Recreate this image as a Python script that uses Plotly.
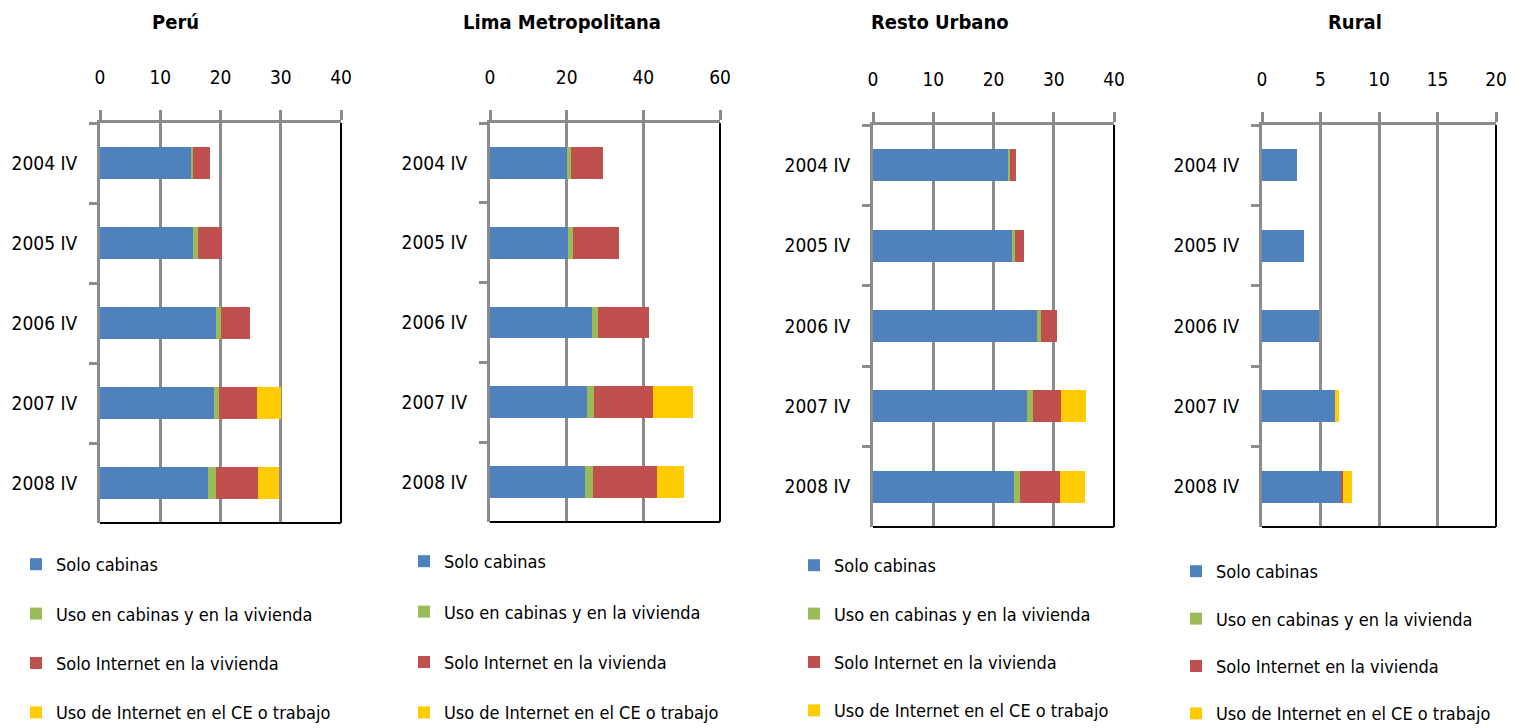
import plotly.graph_objects as go

W, H = 1515, 728

periods = ["2004 IV", "2005 IV", "2006 IV", "2007 IV", "2008 IV"]
series_names = ["Solo cabinas", "Uso en cabinas y en la vivienda",
                "Solo Internet en la vivienda", "Uso de Internet en el CE o trabajo"]
colors = ["#4F81BD", "#9BBB59", "#C0504D", "#FFCC00"]

panel_titles = ["Perú", "Lima Metropolitana", "Resto Urbano", "Rural"]

# Perú
peru_cabinas = [15.2, 15.5, 19.3, 19.0, 18.0]
peru_ambos = [0.3, 0.7, 0.8, 0.8, 1.2]
peru_vivienda = [2.8, 4.0, 4.8, 6.2, 7.1]
peru_ce = [0.0, 0.0, 0.0, 4.0, 3.4]

# Lima Metropolitana
lima_cabinas = [20.1, 20.3, 26.6, 25.3, 24.8]
lima_ambos = [1.0, 1.3, 1.6, 1.8, 2.1]
lima_vivienda = [8.4, 12.0, 13.3, 15.4, 16.7]
lima_ce = [0.0, 0.0, 0.0, 10.5, 7.0]

# Resto Urbano
resto_cabinas = [22.5, 23.0, 27.2, 25.6, 23.4]
resto_ambos = [0.3, 0.6, 0.7, 1.0, 1.0]
resto_vivienda = [0.9, 1.5, 2.6, 4.6, 6.6]
resto_ce = [0.0, 0.0, 0.0, 4.2, 4.2]

# Rural
rural_cabinas = [3.0, 3.6, 4.9, 6.2, 6.8]
rural_ambos = [0.0, 0.0, 0.0, 0.0, 0.0]
rural_vivienda = [0.0, 0.0, 0.0, 0.0, 0.1]
rural_ce = [0.0, 0.0, 0.0, 0.4, 0.8]

x_ranges = [[0, 40], [0, 60], [0, 40], [0, 20]]
x_dtick = [10, 20, 10, 5]

panels = [
    [peru_cabinas, peru_ambos, peru_vivienda, peru_ce],
    [lima_cabinas, lima_ambos, lima_vivienda, lima_ce],
    [resto_cabinas, resto_ambos, resto_vivienda, resto_ce],
    [rural_cabinas, rural_ambos, rural_vivienda, rural_ce],
]

# layout (pixels)
plot_x = [(100, 341), (490, 720), (873, 1114), (1262, 1496)]
plot_y = [(123, 523), (123, 522), (125, 527), (125, 527)]
title_x = [175, 562, 940, 1355]
legend_pos = [(16, 546), (404, 543), (794, 547), (1176, 553)]
legend_gap = [23, 24, 22, 21]

FONT = "DejaVu Sans Condensed, Roboto, sans-serif"
GRAY = "#8C8C8C"

fig = go.Figure()
layout = dict(
    width=W, height=H,
    margin=dict(l=0, r=0, t=0, b=0, autoexpand=False),
    paper_bgcolor="white", plot_bgcolor="white",
    barmode="stack", bargap=0.6,
    font=dict(family=FONT, size=19, color="black"),
    showlegend=True,
    annotations=[], shapes=[],
)

for p in range(4):
    sfx = "" if p == 0 else str(p + 1)
    xa, ya = "x" + sfx, "y" + sfx
    leg = "legend" + sfx
    for s in range(4):
        fig.add_trace(go.Bar(
            y=periods, x=panels[p][s], orientation="h",
            name=series_names[s], marker=dict(color=colors[s], line=dict(width=0)),
            xaxis=xa, yaxis=ya, legend=leg, legendgroup=f"g{p}_{s}",
            hovertemplate="%{y}: %{x}<extra>" + series_names[s] + "</extra>",
        ))
    x0, x1 = plot_x[p]
    y0, y1 = plot_y[p]
    layout["xaxis" + sfx] = dict(
        domain=[x0 / W, x1 / W], anchor=ya, side="top",
        range=x_ranges[p], dtick=x_dtick[p], tick0=0,
        showgrid=True, gridcolor=GRAY, gridwidth=2.5,
        showline=True, linecolor=GRAY, linewidth=3,
        ticks="outside", ticklen=10, tickwidth=2.5, tickcolor=GRAY,
        ticklabelstandoff=18, zeroline=False,
        tickfont=dict(size=19, family=FONT),
    )
    layout["yaxis" + sfx] = dict(
        domain=[(H - y1) / H, (H - y0) / H], anchor=xa,
        autorange="reversed", type="category",
        showline=True, linecolor=GRAY, linewidth=3,
        ticks="outside", tickson="boundaries", ticklen=8, tickwidth=3, tickcolor=GRAY,
        ticklabelstandoff=16, showgrid=False,
        tickfont=dict(size=19, family=FONT),
    )
    layout["annotations"].append(dict(
        text="<b>" + panel_titles[p] + "</b>", x=title_x[p] / W, y=(H - 22) / H,
        xref="paper", yref="paper", showarrow=False, xanchor="center", yanchor="middle",
        font=dict(size=20, family=FONT, color="black"),
    ))
    # right and bottom black border
    layout["shapes"].append(dict(type="line", xref=xa + " domain", yref=ya + " domain",
                                 x0=1, x1=1, y0=0, y1=1, line=dict(color="black", width=2)))
    layout["shapes"].append(dict(type="line", xref=xa + " domain", yref=ya + " domain",
                                 x0=0, x1=1, y0=0, y1=0, line=dict(color="black", width=2)))
    lx, ly = legend_pos[p]
    layout[leg] = dict(
        x=lx / W, y=(H - ly) / H, xanchor="left", yanchor="top",
        orientation="v", traceorder="grouped", tracegroupgap=legend_gap[p],
        font=dict(size=18, family=FONT, color="black"),
        bgcolor="rgba(0,0,0,0)", itemwidth=30,
        itemclick=False, itemdoubleclick=False,
    )

fig.update_layout(**layout)
fig.write_html("out.html", config={"displayModeBar": False},
               post_script="document.body.style.margin='0';document.body.style.overflow='hidden';")
